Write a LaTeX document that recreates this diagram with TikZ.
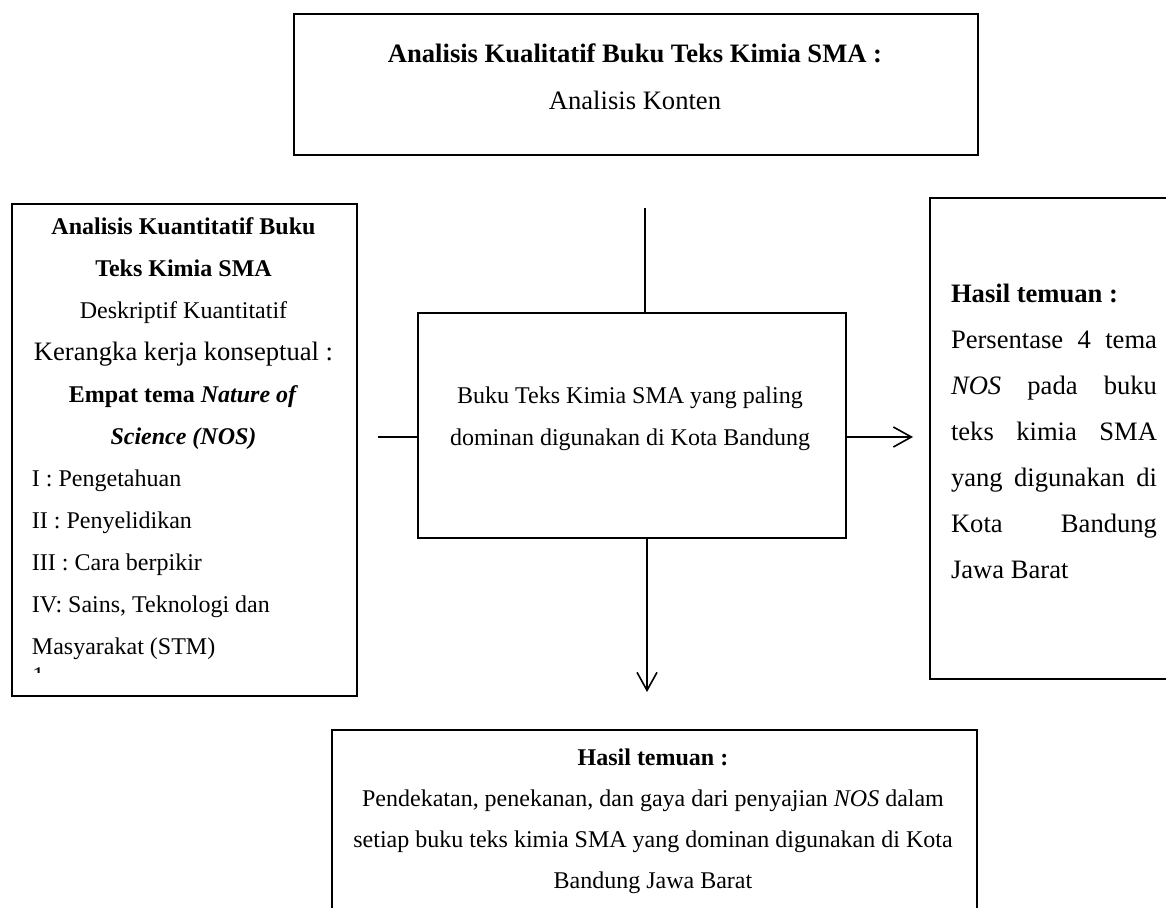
\documentclass[tikz,border=0pt]{standalone}
\usepackage{fontspec}
\setmainfont{Liberation Serif}
\usetikzlibrary{arrows.meta}
\tikzset{
  kotak/.style={draw, rectangle, line width=1pt, inner sep=0mm, anchor=north west},
  teks/.style={align=center, inner sep=0mm, font=\fontsize{12}{21}\selectfont},
  garis/.style={line width=0.8pt},
  panah/.style={garis, -{Straight Barb[length=9pt, width=10pt]}},
}
\newcommand{\kiri}[2][151.5pt]{\makebox[#1][l]{#2}}
\newcommand{\rata}[1]{\makebox[103pt][s]{#1}}

\begin{document}
\begin{tikzpicture}[x=0.5pt, y=-0.5pt]
\useasboundingbox (0,0) rectangle (1166,908);

%draw boxes
\node[kotak, minimum width=342pt,   minimum height=70.5pt]  (kualitatif)  at (293,13)  {};
\node[kotak, minimum width=172.5pt, minimum height=246pt]   (kuantitatif) at (11,203)  {};
\node[kotak, minimum width=214pt,   minimum height=112.5pt] (buku)        at (417,312) {};
\node[kotak, minimum width=125pt,   minimum height=240.5pt] (temuanKanan) at (929,197) {};
\node[kotak, minimum width=322.5pt, minimum height=92pt]    (temuanBawah) at (331,729) {};

%texts
\node[teks, font=\fontsize{13.3}{23.5}\selectfont] (kualTeks) at (635,76.5)
  {\textbf{Analisis Kualitatif Buku Teks Kimia SMA :}\\ Analisis Konten};
\node[teks] (kuantTeks) at (183.5,439)
  {\textbf{Analisis Kuantitatif Buku}\\ \textbf{Teks Kimia SMA}\\ Deskriptif Kuantitatif\\
   {\fontsize{13.3}{21}\selectfont Kerangka kerja konseptual :}\\
   \textbf{Empat tema \textit{Nature of}}\\ \textbf{\textit{Science (NOS)}}\\
   \kiri{I : Pengetahuan}\\ \kiri{II : Penyelidikan}\\ \kiri{III : Cara berpikir}\\
   \kiri{IV: Sains, Teknologi dan}\\ \kiri{Masyarakat (STM)}};
\begin{scope}
  \clip (11,655) rectangle (356,672);
  \node[teks, anchor=north west] (satu) at (32,667) {1};
\end{scope}
\node[teks] (bukuTeks) at (630,419)
  {Buku Teks Kimia SMA yang paling\\ dominan digunakan di Kota Bandung};
\node[teks, font=\fontsize{13.3}{23}\selectfont] (kananTeks) at (1054,431.5)
  {\kiri[103pt]{\textbf{Hasil temuan :}}\\ \rata{Persentase 4 tema}\\ \rata{\textit{NOS} pada buku}\\
   \rata{teks kimia SMA}\\ \rata{yang digunakan di}\\ \rata{Kota Bandung}\\ \kiri[103pt]{Jawa Barat}};
\node[teks, font=\fontsize{12}{20.5}\selectfont] (bawahTeks) at (653,821)
  {\textbf{Hasil temuan :}\\ Pendekatan, penekanan, dan gaya dari penyajian \textit{NOS} dalam\\
   setiap buku teks kimia SMA yang dominan digunakan di Kota\\ Bandung Jawa Barat};

%draw connectors
\coordinate (ujungAtas)   at (645,208);
\coordinate (ujungKiri)   at (378,437);
\coordinate (ujungKanan)  at (913,437);
\coordinate (ujungBawah)  at (647,692);
\draw[garis] (ujungAtas) -- (ujungAtas |- buku.north);
\draw[garis] (ujungKiri) -- (buku.west |- ujungKiri);
\draw[panah] (buku.east |- ujungKanan) -- (ujungKanan);
\draw[panah] (buku.south -| ujungBawah) -- (ujungBawah);
\end{tikzpicture}
\end{document}
